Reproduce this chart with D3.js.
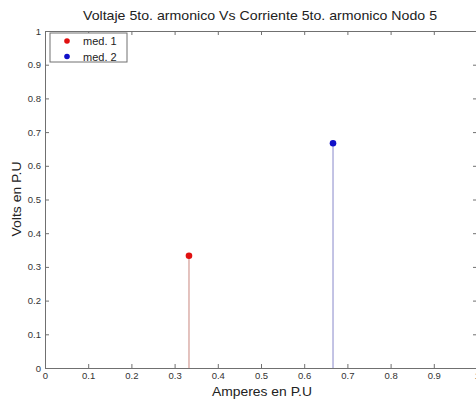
<!DOCTYPE html>
<html>
<head>
<meta charset="utf-8">
<script src="https://cdn.jsdelivr.net/npm/d3@7"></script>
<style>
  body { margin: 0; background: #fff; }
  svg { display: block; font-family: Arial, "Liberation Sans", sans-serif; }
</style>
</head>
<body>
<svg id="chart" width="476" height="400"></svg>
<script>
// Stem-plot data: each measurement is one (current, voltage) pair in per-unit
const seriesNames = ["med. 1", "med. 2"];
const currentPU = [0.3333, 0.6667];
const voltagePU = [0.3333, 0.6667];
const seriesColors = ["#e01010", "#1010c8"];
const stemColors = ["#d6a29c", "#a4a4d6"];
const xTicks = [0, 0.1, 0.2, 0.3, 0.4, 0.5, 0.6, 0.7, 0.8, 0.9, 1];
const yTicks = [0, 0.1, 0.2, 0.3, 0.4, 0.5, 0.6, 0.7, 0.8, 0.9, 1];

const svg = d3.select("#chart");
const plotLeft = 45, plotRight = 477, plotTop = 31, plotBottom = 368;

const x = d3.scaleLinear().domain([0, 1]).range([plotLeft, plotRight]);
const y = d3.scaleLinear().domain([0, 1]).range([plotBottom, plotTop]);

const axisColor = "#707070";
const fmt = d => (d === 0 || d === 1) ? String(d) : d3.format(".1f")(d);

// Bottom and left axes with inward ticks
const gx = svg.append("g").attr("transform", `translate(0,${plotBottom})`)
  .call(d3.axisBottom(x).tickValues(xTicks).tickFormat(fmt).tickSizeInner(-4).tickSizeOuter(0).tickPadding(4));
const gy = svg.append("g").attr("transform", `translate(${plotLeft},0)`)
  .call(d3.axisLeft(y).tickValues(yTicks).tickFormat(fmt).tickSizeInner(-4).tickSizeOuter(0).tickPadding(4));
// Top and right mirrored ticks
const gxt = svg.append("g").attr("transform", `translate(0,${plotTop})`)
  .call(d3.axisTop(x).tickValues(xTicks).tickFormat("").tickSizeInner(-4).tickSizeOuter(0));
const gyr = svg.append("g").attr("transform", `translate(${plotRight},0)`)
  .call(d3.axisRight(y).tickValues(yTicks).tickFormat("").tickSizeInner(-4).tickSizeOuter(0));

[gx, gy, gxt, gyr].forEach(g => {
  g.selectAll("path").attr("stroke", axisColor);
  g.selectAll("line").attr("stroke", axisColor);
  g.selectAll("text").attr("fill", "#333").attr("font-size", 9.5);
});

// Stems and markers
const data = currentPU.map((c, i) => ({ c, v: voltagePU[i], i }));
svg.append("g").selectAll("line").data(data).join("line")
  .attr("x1", d => x(d.c)).attr("x2", d => x(d.c))
  .attr("y1", y(0)).attr("y2", d => y(d.v))
  .attr("stroke", d => stemColors[d.i]).attr("stroke-width", 1.3);
svg.append("g").selectAll("circle").data(data).join("circle")
  .attr("cx", d => x(d.c)).attr("cy", d => y(d.v)).attr("r", 3.3)
  .attr("fill", d => seriesColors[d.i]);

// Title and axis labels
svg.append("text").attr("x", 260).attr("y", 20).attr("text-anchor", "middle")
  .attr("font-size", 13).attr("fill", "#222")
  .attr("textLength", 354).attr("lengthAdjust", "spacingAndGlyphs")
  .text("Voltaje 5to. armonico Vs Corriente 5to. armonico Nodo 5");
svg.append("text").attr("x", 262).attr("y", 396).attr("text-anchor", "middle")
  .attr("font-size", 13.5).attr("fill", "#222")
  .attr("textLength", 100).attr("lengthAdjust", "spacingAndGlyphs")
  .text("Amperes en P.U");
svg.append("text").attr("transform", "translate(21,199) rotate(-90)").attr("text-anchor", "middle")
  .attr("font-size", 13.5).attr("fill", "#222")
  .attr("textLength", 75).attr("lengthAdjust", "spacingAndGlyphs")
  .text("Volts en P.U");

// Legend
const lg = svg.append("g");
lg.append("rect").attr("x", 50).attr("y", 33).attr("width", 77).attr("height", 29)
  .attr("fill", "#fff").attr("stroke", axisColor);
seriesNames.forEach((name, i) => {
  const ly = 41 + i * 15.5;
  lg.append("circle").attr("cx", 67).attr("cy", ly).attr("r", 2.8).attr("fill", seriesColors[i]);
  lg.append("text").attr("x", 83).attr("y", ly + 4).attr("font-size", 11).attr("fill", "#222").text(name);
});
</script>
</body>
</html>
